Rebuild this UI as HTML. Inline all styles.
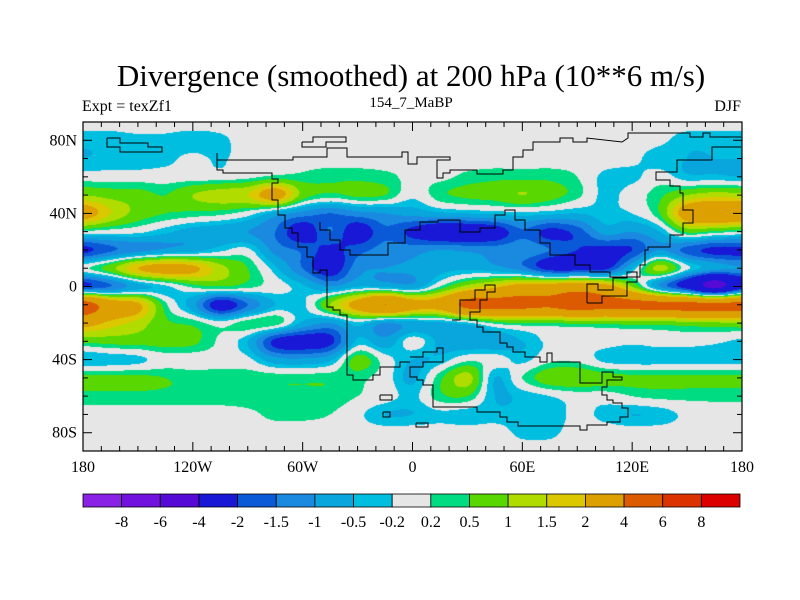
<!DOCTYPE html>
<html><head><meta charset="utf-8">
<style>
html,body{margin:0;padding:0;background:#fff;}
#root{position:relative;width:800px;height:600px;overflow:hidden;font-family:"Liberation Serif",serif;color:#000;}
.t{position:absolute;white-space:nowrap;}
</style></head>
<body>
<div id="root">
<div class="t" style="left:0;width:822px;text-align:center;top:58px;font-size:31px;">Divergence (smoothed) at 200 hPa (10**6 m/s)</div>
<div class="t" style="left:82px;top:98px;font-size:16px;">Expt = texZf1</div>
<div class="t" style="left:311px;width:200px;text-align:center;top:95px;font-size:15px;">154_7_MaBP</div>
<div class="t" style="left:641px;width:100px;text-align:right;top:98px;font-size:16px;">DJF</div>
<canvas id="map" width="659" height="329" style="position:absolute;left:83px;top:122px;"></canvas>
<svg id="ov" width="800" height="600" style="position:absolute;left:0;top:0;"></svg>
</div>
<script>
const levels=[-8,-6,-4,-2,-1.5,-1,-0.5,-0.2,0.2,0.5,1,1.5,2,4,6,8];
const levelLabels=["-8","-6","-4","-2","-1.5","-1","-0.5","-0.2","0.2","0.5","1","1.5","2","4","6","8"];
const colors=["#8a22e6","#7212de","#560ad6","#1818d6","#0a5ad8","#1a8ae0","#08a6dc","#00bee0","#e6e6e6","#00dc82","#58d800","#b0dc00","#dcc800","#dca000","#dc5a00","#dc3200","#dc0000"];
const lonTicks=["180","120W","60W","0","60E","120E","180"];
const latTicks=["80N","40N","0","40S","80S"];
const lons=[-180,-165,-150,-135,-120,-105,-90,-75,-60,-45,-30,-15,0,15,30,45,60,75,90,105,120,135,150,165,180];
const lats=[90,80,70,60,50,40,30,20,10,0,-10,-20,-30,-40,-50,-60,-70,-80,-90];
const r90=[0,0,0,0,0,0,0,0,0,0,0,0,0,0,0,0,0,0,0,0,0,0,0,0,0];
const r80=[-0.4,-0.4,-0.3,-0.3,-0.4,-0.3,0,0,0,0,0,0,0,0,0,0,0,0,0,0,0,-0.1,-0.4,-0.4,-0.4];
const r70=[-0.5,-0.4,-0.4,-0.3,-0.1,-0.25,0,0,0,0,0,0,0,0,0,0,0,0,0,0,-0.1,-0.4,-0.5,-0.5,-0.5];
const r60=[0,0,0,0,0,0,0.1,0.3,0.3,0.4,0.4,0.3,0.1,0.1,0.3,0.4,0.4,0.4,0.2,-0.3,-0.3,0,-0.4,-0.4,-0.5];
const r50=[1.0,0.8,0.7,0.5,1.0,1.3,1.5,2.5,0.8,0.4,0.6,0.5,-0.1,0.4,0.6,0.7,1.0,0.7,0.3,-0.3,0,0.4,1.0,1.3,1.2];
const r40=[2.5,1.5,0.8,0.5,0.4,0.3,0,-0.7,-1.2,-1.5,-1.2,-1.0,-0.8,-0.6,-0.5,-0.4,-0.3,-0.4,-0.5,-0.3,-0.2,0.5,2.6,3.2,3];
const r30=[0.1,0,-0.1,-0.4,-0.7,-0.8,-1.0,-1.5,-2.5,-1.5,-2.5,-1.6,-2.2,-2.8,-2.8,-2.5,-1.6,-2.2,-1.8,-0.8,-1.0,-0.5,0.6,0.4,0.2];
const r20=[-2.2,-1.6,-1.2,-0.9,-0.7,-0.3,-0.1,-1.2,-1.6,-2.2,-1.7,-1.3,-1.2,-1.0,-1.1,-1.2,-1.1,-1.5,-2.0,-2.2,-2.0,-1.0,-1.7,-2.2,-2.2];
const r10=[0.1,0.8,2.0,2.5,2.2,1.2,0.5,-0.4,-1.5,-2.5,-1.2,-1.0,-0.9,-0.7,-0.6,-0.8,-1.3,-2.3,-2.4,-2.2,-0.5,1.2,-0.1,-0.8,-1.0];
const r0=[-2.0,-1.5,-0.7,-0.3,0.3,0.5,0.3,0,-0.4,-1.0,-0.5,-0.6,-0.8,0.2,1.2,1.8,2.5,2.6,3,2.5,1.0,-1.0,-2.5,-4.5,-2.5];
const rS10=[5,3,2.2,0.3,-0.8,-2.5,-1.5,-0.5,-0.3,1.0,2.5,4,2.6,2.6,4.5,4.5,4.5,4.3,5,4.5,4.5,4.5,4.5,4.5,4.5];
const rS20=[2.5,1.8,1.3,0.6,0.4,0,0.4,0.4,-0.6,-1.0,-0.3,-1.0,-0.7,-0.6,-0.3,0.3,0.5,0.5,0.6,0.6,0.7,0.7,0.8,0.9,1.0];
const rS30=[0.6,0.7,0.7,0.7,0.6,0.1,-0.5,-2.2,-2.5,-2.2,-0.4,-0.8,0,-0.6,-0.8,-0.8,-0.5,-0.1,0,0,-0.1,0,0,-0.1,-0.3];
const rS40=[-0.5,-0.4,-0.3,0,0,0,-0.1,-0.8,-0.9,-0.6,0.7,0,-0.5,-0.4,0.1,0,-0.3,0.1,0.1,-0.3,-0.4,-0.4,-0.4,-0.4,-0.4];
const rS50=[0.6,0.6,0.6,0.5,0.4,0.4,0.4,0.4,0.4,0.4,0.3,0,-0.6,0.4,1.2,-0.5,0.2,0.8,0.9,0.7,0.6,0.6,0.6,0.6,0.6];
const rS60=[0.4,0.4,0.4,0.4,0.4,0.4,0.4,0.4,0.4,0.4,0.2,0,-0.3,0.4,0.5,-0.5,-0.4,-0.2,0,0,0.2,0.3,0.3,0.3,0.3];
const rS70=[0,0,0,0,0,0,0.1,0.3,0.3,0.2,-0.1,-0.5,-0.5,-0.3,-0.4,-0.4,-0.4,-0.4,-0.1,-0.3,-0.5,-0.4,-0.1,0,0];
const rS80=[0,0,0,0,0,0,0,0,0,0,0,0,0,0,0,0,-0.3,-0.3,0,0,0,0,0,0,0];
const rS90=[0,0,0,0,0,0,0,0,0,0,0,0,0,0,0,0,0,0,0,0,0,0,0,0,0];
const field=[r90,r80,r70,r60,r50,r40,r30,r20,r10,r0,rS10,rS20,rS30,rS40,rS50,rS60,rS70,rS80,rS90];

const PX0=83,PY0=122,PW=659,PH=329;
function xOf(lon){return PX0+(lon+180)/360*PW;}
function yOf(lat){return PY0+(90-lat)/180*PH;}
function binOf(v){let i=0;while(i<levels.length&&v>=levels[i])i++;return i;}
function hex(c){return [parseInt(c.substr(1,2),16),parseInt(c.substr(3,2),16),parseInt(c.substr(5,2),16)];}
const rgb=colors.map(hex);
function cr(p0,p1,p2,p3,t){return p1+0.5*t*(p2-p0+t*(2*p0-5*p1+4*p2-p3+t*(3*(p1-p2)+p3-p0)));}
function val(gx,gy){
  const nx=lons.length,ny=lats.length;
  const ix=Math.floor(gx),iy=Math.floor(gy);
  const tx=gx-ix,ty=gy-iy;
  const rowv=[];
  for(let j=-1;j<=2;j++){
    const yy=Math.min(ny-1,Math.max(0,iy+j));
    const p=[];
    for(let i=-1;i<=2;i++){const xx=Math.min(nx-1,Math.max(0,ix+i));p.push(field[yy][xx]);}
    rowv.push(cr(p[0],p[1],p[2],p[3],tx));
  }
  return cr(rowv[0],rowv[1],rowv[2],rowv[3],ty);
}
(function(){
  const cv=document.getElementById('map');const ctx=cv.getContext('2d');
  const img=ctx.createImageData(PW,PH);
  const dlon=lons[1]-lons[0],dlat=lats[0]-lats[1];
  for(let py=0;py<PH;py++){
    const lat=90-(py+0.5)/PH*180;const gy=(lats[0]-lat)/dlat;
    for(let px=0;px<PW;px++){
      const lon=-180+(px+0.5)/PW*360;const gx=(lon-lons[0])/dlon;
      const c=rgb[binOf(val(gx,gy))];const k=(py*PW+px)*4;
      img.data[k]=c[0];img.data[k+1]=c[1];img.data[k+2]=c[2];img.data[k+3]=255;
    }
  }
  ctx.putImageData(img,0,0);
})();

const NS="http://www.w3.org/2000/svg";
const ov=document.getElementById('ov');
function mk(tag,attrs,parent){const e=document.createElementNS(NS,tag);for(const k in attrs)e.setAttribute(k,attrs[k]);(parent||ov).appendChild(e);return e;}
const coast=[
 [[107,138],[120,138],[120,143],[148,143],[148,147],[162,147],[162,152],[120,152],[120,147],[107,147],[107,138]],
 [[217,153],[217,170],[223,170],[223,173],[272,173],[272,179],[278,179],[278,183],[272,183],[272,200],[278,200],[278,215],[285,215],[285,228],[292,228],[292,233],[298,233],[298,247],[307,247],[307,257],[313,257],[313,273],[320,273],[320,270],[327,270],[327,307],[333,307],[333,310],[340,310],[340,315],[347,315],[347,375],[353,375],[353,380],[373,380],[373,375],[380,375],[380,367],[400,367],[400,362],[410,362]],
 [[217,153],[217,160],[293,160],[293,157],[327,157],[327,148],[347,148],[347,157],[402,157],[402,152],[408,152],[408,164],[417,164],[417,157],[450,157],[450,160],[437,160],[437,178],[443,178],[443,173],[450,173],[450,170],[477,170],[477,174],[503,174],[503,170],[513,170],[513,157],[523,157],[523,150],[533,150],[533,142],[560,142],[560,138],[573,138],[573,142],[587,142],[587,138],[622,142],[628,138],[628,133],[690,133],[690,137],[703,137],[703,133],[710,133],[710,137],[741,137]],
 [[302,142],[313,142],[313,137],[346,137],[346,142],[326,142],[326,147],[302,147],[302,142]],
 [[741,147],[712,147],[712,160],[677,160],[677,172],[656,172],[656,180],[670,180],[670,186],[680,186],[680,193],[683,193],[683,210],[693,210],[693,223],[683,223],[683,235],[670,235],[670,247],[648,247],[648,250],[645,250],[645,265],[640,265],[640,277],[610,277],[610,272],[590,272],[590,265],[575,265],[575,255],[550,255],[550,243],[540,243],[540,230],[525,230],[525,220],[515,220],[515,210],[505,210],[505,215],[495,215],[495,228],[480,228],[480,232],[460,232],[460,220],[438,220],[438,222],[420,222],[420,230],[405,230],[405,243],[388,243],[388,255],[350,255],[350,250],[340,250],[340,240],[330,240],[330,230],[320,230],[320,222]],
 [[410,357],[423,357],[423,352],[437,352],[437,348],[443,348],[443,362],[423,362],[423,367],[410,367],[410,377],[417,377],[417,380],[423,380],[423,385],[433,385],[433,407],[477,407],[477,412],[500,412],[500,417],[507,417],[507,422],[518,422],[518,426],[580,426],[580,430],[587,430],[587,425],[607,425],[607,422],[620,422],[620,417],[628,417],[628,408],[622,408],[622,403],[613,403],[613,400],[607,400],[607,395],[602,395],[602,387],[607,387],[607,380],[622,380],[622,377],[613,377],[613,372],[602,372],[602,383],[580,383],[580,362],[552,362],[552,353],[547,353],[547,362],[540,362],[540,357],[525,357],[525,352],[513,352],[513,347],[507,347],[507,343],[500,343],[500,332],[483,332],[483,327],[477,327],[477,320],[470,320],[470,312],[480,312],[480,300],[487,300],[487,292],[495,292],[495,285],[485,285],[485,290],[475,290],[475,300],[460,300],[460,320],[452,320]],
 [[587,303],[602,303],[602,296],[627,296],[627,282],[637,282],[637,272],[627,272],[627,278],[613,278],[613,290],[598,290],[598,284],[587,284],[587,303]],
 [[380,395],[392,395],[392,400],[380,400],[380,395]],[[383,412],[390,412],[390,417],[383,417],[383,412]],[[416,423],[428,423],[428,427],[416,427],[416,423]]
];
const cg=mk('g',{fill:'none',stroke:'#000','stroke-width':'1'});


coast.forEach(function(pl){const p=mk('polyline',{points:pl.map(function(q){return q.join(',');}).join(' ')},cg);
 
 });
const fr=mk('rect',{x:PX0,y:PY0,width:PW,height:PH,fill:'none',stroke:'#000','stroke-width':'1.2'});


const tg=mk('g',{stroke:'#000','stroke-width':'1'});


for(let lon=-180;lon<=180;lon+=10){const x=xOf(lon);const L=(lon%60===0)?9:5;
 mk('line',{x1:x,y1:PY0,x2:x,y2:PY0+L},tg);mk('line',{x1:x,y1:PY0+PH,x2:x,y2:PY0+PH-L},tg);}
for(let lat=-90;lat<=90;lat+=10){const y=yOf(lat);const L=(lat%40===0)?9:5;
 mk('line',{x1:PX0,y1:y,x2:PX0+L,y2:y},tg);mk('line',{x1:PX0+PW,y1:y,x2:PX0+PW-L,y2:y},tg);}
lonTicks.forEach(function(s,i){const t=mk('text',{x:xOf(-180+i*60),y:472,'text-anchor':'middle','font-size':'16','font-family':'Liberation Serif, serif'});t.textContent=s;
 
 });
latTicks.forEach(function(s,i){const t=mk('text',{x:77,y:yOf(80-i*40)+5,'text-anchor':'end','font-size':'16','font-family':'Liberation Serif, serif'});t.textContent=s;
 
 });
const CB0=83,CBW=657,CBY=494,CBH=13;const bw=CBW/colors.length;
const cbg=mk('g',{});


colors.forEach(function(c,i){const r=mk('rect',{x:CB0+i*bw,y:CBY,width:bw,height:CBH,fill:c,stroke:'#000','stroke-width':'0.8'},cbg);
 
 });
levelLabels.forEach(function(s,i){const t=mk('text',{x:CB0+(i+1)*bw,y:527,'text-anchor':'middle','font-size':'16','font-family':'Liberation Serif, serif'},cbg);t.textContent=s;
 
 });
</script>
</body></html>
